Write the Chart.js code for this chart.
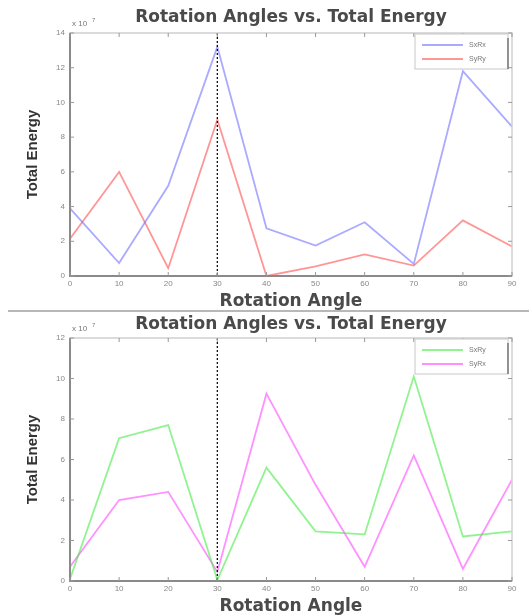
<!DOCTYPE html>
<html>
<head>
<meta charset="utf-8">
<script src="https://cdn.jsdelivr.net/npm/chart.js@4.4.0/dist/chart.umd.min.js"></script>
<style>
  html, body { margin: 0; padding: 0; background: #fff; }
  #wrap { width: 529px; height: 616px; position: relative; overflow: hidden; }
  canvas { position: absolute; left: 0; filter: blur(0.4px); }
  #c1 { top: 0; }
  #c2 { top: 313px; }
  #sep { position: absolute; top: 310px; left: 8px; width: 521px; height: 2px; background: #b8b8b8; }
</style>
</head>
<body>
<div id="wrap">
  <canvas id="c1" width="529" height="310"></canvas>
  <div id="sep"></div>
  <canvas id="c2" width="529" height="303"></canvas>
</div>
<script>
"use strict";

// rotation angles (degrees) and energies in units of 1e7
const angles = [0, 10, 20, 30, 40, 50, 60, 70, 80, 90];
const sxRx = [3.9, 0.75, 5.2, 13.2, 2.75, 1.75, 3.1, 0.7, 11.8, 8.6];
const syRy = [2.15, 6.0, 0.45, 9.0, 0.0, 0.55, 1.25, 0.6, 3.2, 1.7];
const sxRy = [0.1, 7.05, 7.7, 0.05, 5.6, 2.45, 2.3, 10.1, 2.2, 2.45];
const syRx = [0.7, 4.0, 4.4, 0.45, 9.25, 4.75, 0.7, 6.2, 0.6, 5.0];
const markAngle = 30;
const topYMax = 14;
const bottomYMax = 12;

const FONT = "Arial, 'Liberation Sans', sans-serif";
const WIDE = "'DejaVu Sans', sans-serif";

function toPoints(values) {
  return angles.map((a, i) => ({ x: a, y: values[i] }));
}

// frame, inward ticks, dashed marker, legend and exponent note
const decorPlugin = {
  id: "decor",
  afterDatasetsDraw(chart) {
    const ctx = chart.ctx;
    const area = chart.chartArea;
    const xs = chart.scales.x;
    const ys = chart.scales.y;
    ctx.save();

    // dotted marker line
    const mx = xs.getPixelForValue(markAngle);
    ctx.strokeStyle = "#111";
    ctx.lineWidth = 1.3;
    ctx.setLineDash([2, 2]);
    ctx.beginPath();
    ctx.moveTo(mx, area.top);
    ctx.lineTo(mx, area.bottom);
    ctx.stroke();
    ctx.setLineDash([]);

    // frame
    ctx.strokeStyle = "#d0d0d0";
    ctx.lineWidth = 1.5;
    ctx.strokeRect(area.left, area.top, area.right - area.left, area.bottom - area.top);
    ctx.strokeStyle = "#8a8a8a";
    ctx.lineWidth = 2;
    ctx.beginPath();
    ctx.moveTo(area.left, area.top);
    ctx.lineTo(area.left, area.bottom);
    ctx.lineTo(area.right, area.bottom);
    ctx.stroke();

    // inward ticks
    ctx.strokeStyle = "#999";
    ctx.lineWidth = 1;
    ctx.beginPath();
    xs.ticks.forEach((t) => {
      const px = xs.getPixelForValue(t.value);
      ctx.moveTo(px, area.bottom);
      ctx.lineTo(px, area.bottom - 4);
      ctx.moveTo(px, area.top);
      ctx.lineTo(px, area.top + 4);
    });
    ys.ticks.forEach((t) => {
      const py = ys.getPixelForValue(t.value);
      ctx.moveTo(area.left, py);
      ctx.lineTo(area.left + 4, py);
      ctx.moveTo(area.right, py);
      ctx.lineTo(area.right - 4, py);
    });
    ctx.stroke();

    // legend box
    const bw = 93, bh = 35;
    const bx = area.right - 4 - bw;
    const by = area.top + 1;
    ctx.fillStyle = "#fff";
    ctx.fillRect(bx, by, bw, bh);
    ctx.strokeStyle = "#c8c8c8";
    ctx.lineWidth = 1;
    ctx.strokeRect(bx, by, bw, bh);
    ctx.strokeStyle = "#777";
    ctx.lineWidth = 1.5;
    ctx.beginPath();
    ctx.moveTo(bx + bw, by + 4);
    ctx.lineTo(bx + bw, by + bh);
    ctx.stroke();
    ctx.font = "7px " + FONT;
    ctx.textBaseline = "middle";
    chart.data.datasets.forEach((ds, i) => {
      const ry = by + 11 + i * 14;
      ctx.strokeStyle = ds.borderColor;
      ctx.lineWidth = 2;
      ctx.beginPath();
      ctx.moveTo(bx + 7, ry);
      ctx.lineTo(bx + 48, ry);
      ctx.stroke();
      ctx.fillStyle = "#777";
      ctx.fillText(ds.label, bx + 54, ry);
    });

    // exponent note
    ctx.fillStyle = "#777";
    ctx.font = "8px " + FONT;
    ctx.textBaseline = "alphabetic";
    ctx.fillText("x 10", area.left + 2, area.top - 7);
    ctx.font = "6px " + FONT;
    ctx.fillText("7", area.left + 22, area.top - 11);
    ctx.restore();
  },
};

function makeConfig(series, yMax, titlePad, plotBottomGap, xTitlePadBottom) {
  return {
    type: "line",
    data: {
      datasets: series.map((s) => ({
        label: s.label,
        data: toPoints(s.values),
        borderColor: s.color,
        borderWidth: 1.8,
        pointRadius: 0,
        tension: 0,
        fill: false,
      })),
    },
    options: {
      responsive: false,
      animation: false,
      layout: { padding: { left: 0, right: 17, top: 0, bottom: 0 } },
      plugins: {
        legend: { display: false },
        tooltip: { enabled: false },
        title: {
          display: true,
          text: "Rotation Angles vs. Total Energy",
          fullSize: false,
          color: "#4a4a4a",
          font: { family: WIDE, size: 17, weight: "bold", lineHeight: 1 },
          padding: titlePad,
        },
      },
      scales: {
        x: {
          type: "linear",
          min: 0,
          max: 90,
          grid: { display: false, drawTicks: false, tickLength: 0 },
          border: { display: false },
          ticks: {
            stepSize: 10,
            padding: 3,
            maxRotation: 0,
            color: "#888",
            font: { family: FONT, size: 8 },
          },
          title: {
            display: true,
            text: "Rotation Angle",
            color: "#4a4a4a",
            font: { family: WIDE, size: 17, weight: "bold", lineHeight: 1 },
            padding: { top: 0, bottom: xTitlePadBottom },
          },
          afterFit(scale) {
            scale.height = plotBottomGap;
          },
        },
        y: {
          type: "linear",
          min: 0,
          max: yMax,
          grid: { display: false, drawTicks: false, tickLength: 0 },
          border: { display: false },
          ticks: {
            stepSize: 2,
            padding: 5,
            color: "#888",
            font: { family: FONT, size: 8 },
          },
          title: {
            display: true,
            text: "Total Energy",
            color: "#333",
            font: { family: FONT, size: 15, weight: "bold", lineHeight: 1 },
            padding: { top: 25, bottom: 0 },
          },
          afterFit(scale) {
            scale.width = 70;
          },
        },
      },
    },
    plugins: [decorPlugin],
  };
}

new Chart(
  document.getElementById("c1"),
  makeConfig(
    [
      { label: "SxRx", values: sxRx, color: "rgba(100, 100, 255, 0.55)" },
      { label: "SyRy", values: syRy, color: "rgba(255, 80, 80, 0.6)" },
    ],
    topYMax,
    { top: 9, bottom: 7 },
    34,
    0
  )
);

new Chart(
  document.getElementById("c2"),
  makeConfig(
    [
      { label: "SxRy", values: sxRy, color: "rgba(70, 235, 70, 0.6)" },
      { label: "SyRx", values: syRx, color: "rgba(255, 70, 255, 0.6)" },
    ],
    bottomYMax,
    { top: 3, bottom: 5 },
    35,
    1
  )
);
</script>
</body>
</html>
